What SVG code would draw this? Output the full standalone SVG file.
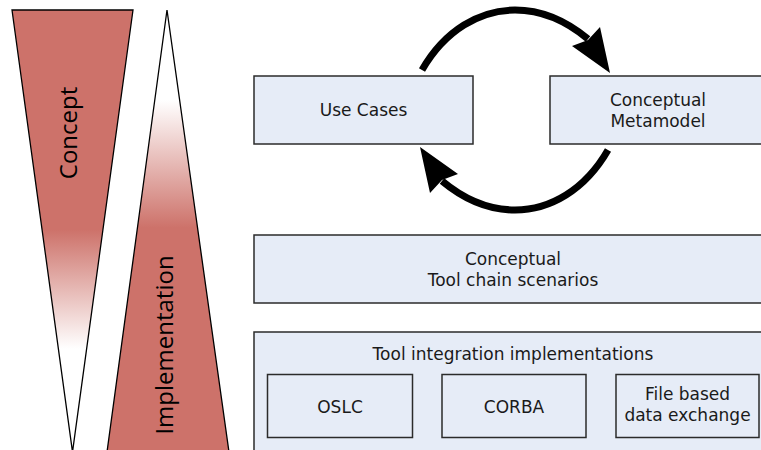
<svg xmlns="http://www.w3.org/2000/svg" width="761" height="450" viewBox="0 0 761 450">
  <defs>
    <linearGradient id="fadeDown" gradientUnits="userSpaceOnUse" x1="0" y1="10" x2="0" y2="450">
      <stop offset="0" stop-color="#cd726a"/>
      <stop offset="0.5" stop-color="#cd726a"/>
      <stop offset="0.77" stop-color="#ffffff"/>
      <stop offset="1" stop-color="#ffffff"/>
    </linearGradient>
    <linearGradient id="fadeUp" gradientUnits="userSpaceOnUse" x1="0" y1="10" x2="0" y2="450">
      <stop offset="0" stop-color="#ffffff"/>
      <stop offset="0.205" stop-color="#ffffff"/>
      <stop offset="0.495" stop-color="#cd726a"/>
      <stop offset="1" stop-color="#cd726a"/>
    </linearGradient>
    <g id="cycleArrow">
      <path d="M422,70 C445,30 480,10 515,10 C545,10 570,24 588,39" fill="none" stroke="#000" stroke-width="7"/>
      <polygon points="610,73 572,46 588,40 600,27" fill="#000"/>
    </g>
  </defs>
  <style>
    .wedge { stroke: #000; stroke-width: 1.3; }
    .vlabel { font-family: "Open Sans", "DejaVu Sans", sans-serif; font-size: 24px; fill: #000; text-anchor: middle; }
    .box { fill: #e6ecf7; stroke: #2b2b2b; stroke-width: 1.5; }
    .label { font-family: "DejaVu Sans", sans-serif; font-size: 17px; fill: #1a1a1a; text-anchor: middle; }
  </style>

  <!-- abstraction wedges -->
  <g id="concept">
    <polygon class="wedge" points="12,10 133,10 72.5,452" fill="url(#fadeDown)"/>
    <text class="vlabel" transform="translate(77,133) rotate(-90)">Concept</text>
  </g>
  <g id="implementation">
    <polygon class="wedge" points="167,10 229,452 107,452" fill="url(#fadeUp)"/>
    <text class="vlabel" transform="translate(173,345) rotate(-90)">Implementation</text>
  </g>

  <!-- boxes -->
  <g id="use-cases">
    <rect class="box" x="254" y="76" width="219" height="68"/>
    <text class="label" x="363.5" y="116">Use Cases</text>
  </g>
  <g id="conceptual-metamodel">
    <rect class="box" x="550" y="76" width="220" height="68"/>
    <text class="label" x="658" y="106">Conceptual</text>
    <text class="label" x="658" y="127">Metamodel</text>
  </g>
  <g id="tool-chain-scenarios">
    <rect class="box" x="254" y="235" width="516" height="68"/>
    <text class="label" x="513" y="265">Conceptual</text>
    <text class="label" x="513" y="286">Tool chain scenarios</text>
  </g>
  <g id="tool-integration">
    <rect class="box" x="254" y="332" width="516" height="130"/>
    <text class="label" x="513" y="360">Tool integration implementations</text>
  </g>
  <g id="oslc">
    <rect class="box" x="267.5" y="374.5" width="145" height="63"/>
    <text class="label" x="340" y="413">OSLC</text>
  </g>
  <g id="corba">
    <rect class="box" x="442" y="374.5" width="144" height="63"/>
    <text class="label" x="514" y="413">CORBA</text>
  </g>
  <g id="file-exchange">
    <rect class="box" x="616" y="374.5" width="143" height="63"/>
    <text class="label" x="687.5" y="400">File based</text>
    <text class="label" x="687.5" y="421">data exchange</text>
  </g>

  <!-- connectors -->
  <g id="connectors">
    <use href="#cycleArrow"/>
    <use href="#cycleArrow" transform="rotate(180 515 110)"/>
  </g>
</svg>
